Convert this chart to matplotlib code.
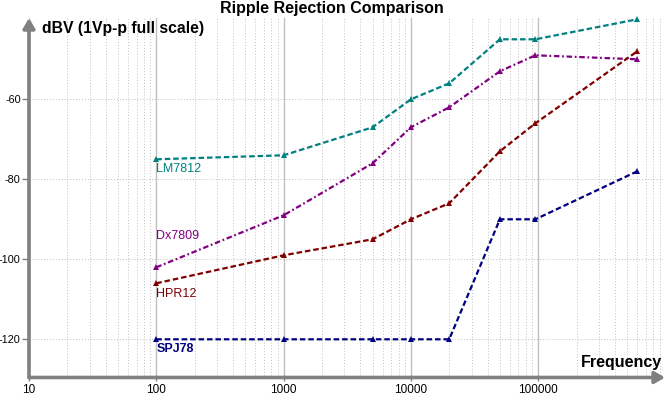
import matplotlib
matplotlib.use("Agg")
import matplotlib.pyplot as plt
from matplotlib.ticker import LogLocator, FixedLocator, NullFormatter

# ── Data ──────────────────────────────────────────────────────────────────────
FREQ    = [100, 1000, 5000, 10000, 20000, 50000, 95000, 600000]
LM7812  = [-75, -74, -67, -60, -56, -45, -45, -40]
DX7809  = [-102, -89, -76, -67, -62, -53, -49, -50]
HPR12   = [-106, -99, -95, -90, -86, -73, -66, -48]
SPJ78   = [-120, -120, -120, -120, -120, -90, -90, -78]

SERIES_NAMES = ["LM7812", "Dx7809", "HPR12", "SPJ78"]
X_TICKS = [10, 100, 1000, 10000, 100000]
Y_TICKS = [-120, -100, -80, -60]

TITLE  = "Ripple Rejection Comparison"
YLABEL = "dBV (1Vp-p full scale)"
XLABEL = "Frequency"

# ── Style ─────────────────────────────────────────────────────────────────────
plt.rcParams["font.family"] = ["Liberation Sans", "DejaVu Sans"]
AXIS_GREY = "#808080"
GRID_GREY = "#c0c0c0"
COLORS = {"LM7812": "#008080", "Dx7809": "#800080", "HPR12": "#800000", "SPJ78": "#000080"}
STYLES = {
    "LM7812": (0, (2.5, 1.3)),
    "Dx7809": (0, (2.5, 1.2, 0.8, 1.2)),
    "HPR12":  (0, (2.5, 1.3)),
    "SPJ78":  (0, (2.5, 1.3)),
}
LABEL_POS = {  # (x in data, y in data) for the in-plot series names
    "LM7812": (100, -77.5),
    "Dx7809": (100, -94.2),
    "HPR12":  (100, -108.7),
    "SPJ78":  (100, -122.5),
}

W, H = 665, 398
fig = plt.figure(figsize=(W / 100, H / 100), dpi=100, facecolor="white")
left, right, top, bottom = 29, 663, 18, 377.5
ax = fig.add_axes([left / W, (H - bottom) / H, (right - left) / W, (bottom - top) / H])

ax.set_xscale("log")
ax.set_xlim(10, 10 ** (1 + (right - left) / 127.3))
ax.set_ylim(-120 - (bottom - 339.3) / 4, -60 + (99.3 - top) / 4)

# grid
ax.xaxis.set_major_locator(FixedLocator(X_TICKS))
ax.xaxis.set_minor_locator(LogLocator(base=10, subs=range(2, 10), numticks=20))
ax.xaxis.set_minor_formatter(NullFormatter())
ax.set_xticklabels([str(t) for t in X_TICKS])
ax.set_yticks(Y_TICKS)
ax.set_yticklabels([str(t) for t in Y_TICKS])
ax.grid(True, which="major", axis="x", color=GRID_GREY, lw=1.0, ls="-")
ax.grid(True, which="minor", axis="x", color=GRID_GREY, lw=0.7, ls=(0, (1, 2)))
ax.grid(True, which="major", axis="y", color=GRID_GREY, lw=0.7, ls=(0, (1, 2)))
ax.set_axisbelow(True)

ax.tick_params(axis="y", which="major", length=5, width=1, color=AXIS_GREY,
               direction="out", pad=1, labelsize=7.8)
ax.tick_params(axis="x", which="major", length=5, width=1, color=AXIS_GREY,
               direction="inout", pad=2, labelsize=8.5)
ax.tick_params(axis="x", which="minor", length=0)

for s in ax.spines.values():
    s.set_visible(False)

# axis lines with arrow heads
arrow = dict(arrowstyle="-|>,head_length=0.6,head_width=0.35", color=AXIS_GREY,
             lw=2.6, shrinkA=0, shrinkB=0)
ax.annotate("", xy=(0, 1.0), xytext=(0, 0), xycoords="axes fraction",
            arrowprops=arrow, annotation_clip=False)
ax.annotate("", xy=((665 - left) / (right - left), 0), xytext=(0, 0),
            xycoords="axes fraction", arrowprops=arrow, annotation_clip=False)

# series
for name, vals in zip(SERIES_NAMES, [LM7812, DX7809, HPR12, SPJ78]):
    c = COLORS[name]
    ax.plot(FREQ, vals, color=c, lw=1.6, ls=STYLES[name], marker="^",
            markersize=4, markeredgewidth=0, clip_on=False, zorder=3)
    lx, ly = LABEL_POS[name]
    ax.text(lx, ly, name, color=c, fontsize=9,
            fontweight="bold" if name == "SPJ78" else "normal",
            ha="left", va="center")

# texts
fig.text(332 / W, 1 - 9 / H, TITLE, ha="center", va="center",
         fontsize=11.5, fontweight="bold")
fig.text(42 / W, 1 - 29 / H, YLABEL, ha="left", va="center",
         fontsize=11.3, fontweight="bold")
fig.text(662 / W, 1 - 363 / H, XLABEL, ha="right", va="center",
         fontsize=11.5, fontweight="bold")

fig.savefig("out.png", dpi=100, facecolor="white")
